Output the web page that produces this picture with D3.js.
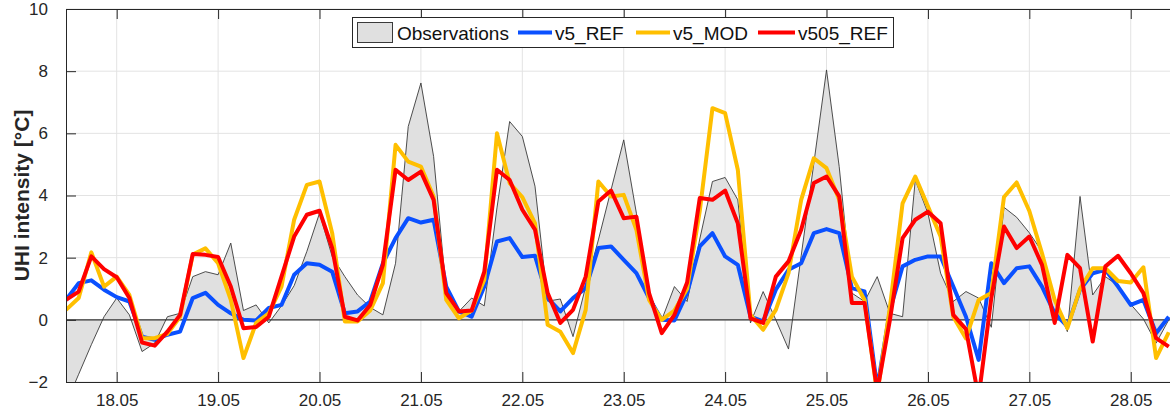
<!DOCTYPE html>
<html><head><meta charset="utf-8">
<script src="https://cdn.jsdelivr.net/npm/d3@7"></script>
<style>
body{margin:0;background:#fff;}
svg{display:block;font-family:"Liberation Sans",Arial,Helvetica,sans-serif;}
</style>
</head><body>
<svg id="chart" width="1170" height="410"></svg>
<script>
// sampling grid (3-hourly, days of May)
const startDay = 17.5, stepDays = 0.125;

const observations = [
 -2.7,-1.75,-0.8,0.1,0.7,0.16,-1.02,-0.75,0.1,0.21,1.39,1.55,1.45,2.47,0.3,0.48,
 -0.1,0.45,1.1,2.2,3.43,2.04,1.39,0.8,0.4,0.16,1.82,6.22,7.62,5.26,0.9,0.27,
 0.7,0.45,3.6,6.38,5.9,4.3,0.6,0.67,-0.54,1.07,2.57,4.18,5.79,3.43,0.86,0.0,
 1.07,0.59,2.6,4.45,4.58,3.86,-0.1,0.91,0.0,-0.94,2.06,5.04,8.04,4.93,0.86,0.59,
 1.39,0.21,0.1,4.5,3.43,1.5,0.59,0.91,0.7,-0.24,3.62,3.3,2.8,2.2,0.64,-0.38,
 3.97,0.8,1.39,1.1,0.5,0.03,-0.75,0.0
];
const v5_REF = [
 0.64,1.18,1.27,0.97,0.73,0.59,-0.54,-0.64,-0.48,-0.38,0.7,0.87,0.48,0.21,0.0,-0.02,
 0.38,0.48,1.45,1.82,1.77,1.55,0.21,0.27,0.59,1.82,2.63,3.27,3.13,3.22,1.07,0.27,
 0.1,1.07,2.52,2.63,2.02,2.06,0.7,0.27,0.7,1.02,2.31,2.36,1.93,1.5,0.7,0.0,
 -0.02,0.86,2.36,2.79,2.04,1.77,0.1,-0.05,0.97,1.61,1.82,2.79,2.92,2.79,1.02,0.91,
 -2.2,0.3,1.72,1.93,2.04,2.04,1.07,0.1,-1.29,1.82,1.18,1.66,1.72,1.07,0.21,-0.21,
 0.97,1.5,1.61,1.07,0.48,0.64,-0.43,0.1
];
const v5_MOD = [
 0.32,0.7,2.17,1.07,1.39,0.8,-0.59,-0.59,-0.45,0.1,2.1,2.3,1.82,0.64,-1.23,-0.1,
 0.21,1.07,3.22,4.34,4.45,2.79,-0.05,-0.05,0.3,1.18,5.63,5.09,4.93,3.97,0.64,0.05,
 0.3,1.29,6.0,4.4,3.95,3.1,-0.16,-0.38,-1.07,0.32,4.45,3.97,4.02,2.9,0.64,0.0,
 0.3,1.0,3.5,6.81,6.65,4.83,0.16,-0.32,0.32,1.5,3.86,5.2,4.88,3.86,1.39,0.64,
 -2.4,0.4,3.75,4.61,3.65,2.68,0.1,-0.6,0.64,0.86,3.95,4.42,3.5,2.14,0.64,-0.27,
 1.0,1.66,1.66,1.25,1.2,1.69,-1.23,-0.4
];
const v505_REF = [
 0.64,0.91,2.04,1.63,1.37,0.7,-0.73,-0.83,-0.38,0.16,2.12,2.09,2.02,1.07,-0.27,-0.23,
 0.1,1.39,2.68,3.38,3.51,2.31,0.1,-0.02,0.48,1.77,4.83,4.5,4.77,3.86,0.86,0.27,
 0.3,1.55,4.83,4.5,3.54,2.9,0.86,-0.1,0.32,1.39,3.81,4.16,3.27,3.32,0.86,-0.43,
 0.16,1.2,3.92,3.86,4.16,3.11,0.05,-0.1,1.39,1.88,2.9,4.4,4.61,3.97,0.54,0.54,
 -2.3,0.0,2.63,3.22,3.48,3.11,0.16,-0.3,-2.5,0.7,3.0,2.31,2.68,1.77,-0.1,2.09,
 1.66,-0.7,1.72,2.06,1.5,0.86,-0.59,-0.86
];

const xTickDays = [18,19,20,21,22,23,24,25,26,27,28];
const xTickLabels = ["18.05","19.05","20.05","21.05","22.05","23.05","24.05","25.05","26.05","27.05","28.05"];
const yTicks = [-2,0,2,4,6,8,10];
const seriesNames = ["Observations","v5_REF","v5_MOD","v505_REF"];
const seriesColors = ["#e0e0e0","#0a50ff","#ffbf00","#ff0000"];

const svg = d3.select("#chart");
const L = 66, T = 9, B = 382, R = 1171.3;
const x = d3.scaleLinear().domain([17.5, 28.4]).range([L, R]);
const y = d3.scaleLinear().domain([-2, 10]).range([B, T]);
const axisCol = "#262626";

svg.append("defs").append("clipPath").attr("id","clip")
  .append("rect").attr("x",L).attr("y",T).attr("width",R-L).attr("height",B-T);

// grid
const grid = svg.append("g");
grid.selectAll("line.vx").data(xTickDays).enter().append("line")
  .attr("x1",d=>x(d)).attr("x2",d=>x(d)).attr("y1",T).attr("y2",B)
  .attr("stroke","#e3e3e3").attr("stroke-width",1);
grid.selectAll("line.hy").data(yTicks).enter().append("line")
  .attr("y1",d=>y(d)).attr("y2",d=>y(d)).attr("x1",L).attr("x2",R)
  .attr("stroke","#e3e3e3").attr("stroke-width",1);

const tOf = i => startDay + i*stepDays;
const plot = svg.append("g").attr("clip-path","url(#clip)");

// observations area
const area = d3.area().x((d,i)=>x(tOf(i))).y0(y(0)).y1(d=>y(d));
plot.append("path").datum(observations).attr("d",area)
  .attr("fill","#e0e0e0").attr("stroke","none");
const line = d3.line().x((d,i)=>x(tOf(i))).y(d=>y(d));
plot.append("path").datum(observations).attr("d",line)
  .attr("fill","none").attr("stroke","#3a3a3a").attr("stroke-width",0.9);

// zero line
plot.append("line").attr("x1",L).attr("x2",R).attr("y1",y(0)).attr("y2",y(0))
  .attr("stroke","#333").attr("stroke-width",1.4);

[[v5_REF,1],[v5_MOD,2],[v505_REF,3]].forEach(([arr,k])=>{
  plot.append("path").datum(arr).attr("d",line)
    .attr("fill","none").attr("stroke",seriesColors[k]).attr("stroke-width",4)
    .attr("stroke-linejoin","round");
});

// axes
const xAxisB = d3.axisBottom(x).tickValues(xTickDays).tickFormat((d,i)=>xTickLabels[i]).tickSizeInner(-10).tickSizeOuter(0).tickPadding(14);
const gxb = svg.append("g").attr("transform",`translate(0,${B})`).call(xAxisB);
const xAxisT = d3.axisTop(x).tickValues(xTickDays).tickFormat("").tickSizeInner(-10).tickSizeOuter(0);
const gxt = svg.append("g").attr("transform",`translate(0,${T})`).call(xAxisT);
const yAxisL = d3.axisLeft(y).tickValues(yTicks).tickSizeInner(-10).tickSizeOuter(0).tickPadding(18);
const gyl = svg.append("g").attr("transform",`translate(${L},0)`).call(yAxisL);
[gxb,gxt,gyl].forEach(g=>{
  g.select(".domain").attr("stroke",axisCol).attr("stroke-width",1);
  g.selectAll(".tick line").attr("stroke",axisCol).attr("stroke-width",1);
  g.selectAll(".tick text").attr("fill",axisCol).style("font-size","17px")
    .style("font-family",'"Liberation Sans",Arial,sans-serif');
});
gxb.selectAll(".tick text").attr("dy","0.71em").attr("y",12);

// y label
svg.append("text").attr("transform",`translate(29,${(T+B)/2}) rotate(-90)`)
  .attr("text-anchor","middle").attr("fill",axisCol)
  .style("font-size","21px").style("font-weight","bold")
  .text("UHI intensity [°C]");

// legend
const lg = svg.append("g");
lg.append("rect").attr("x",352.5).attr("y",17.5).attr("width",541).attr("height",30)
  .attr("fill","#fff").attr("stroke",axisCol).attr("stroke-width",1);
lg.append("rect").attr("x",357.5).attr("y",22.5).attr("width",35).attr("height",20)
  .attr("fill",seriesColors[0]).attr("stroke","#3a3a3a").attr("stroke-width",1);
const lineX = [null,[518,552],[636,670],[758,795]];
const textX = [397,555,673,798];
seriesNames.forEach((n,k)=>{
  if(k>0){
    lg.append("line").attr("x1",lineX[k][0]).attr("x2",lineX[k][1]).attr("y1",32.5).attr("y2",32.5)
      .attr("stroke",seriesColors[k]).attr("stroke-width",4);
  }
  lg.append("text").attr("x",textX[k]).attr("y",39.5).attr("fill","#111")
    .style("font-size","19px").text(n);
});
</script>
</body></html>
